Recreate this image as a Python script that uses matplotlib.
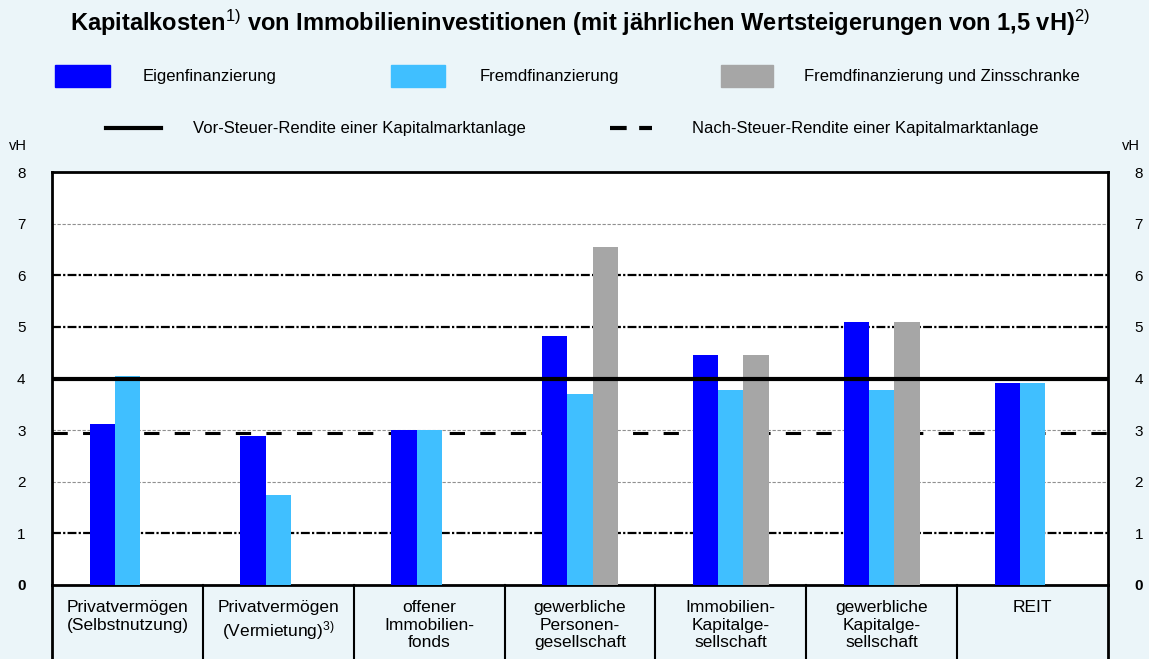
import matplotlib
matplotlib.use("Agg")
import matplotlib.pyplot as plt
from matplotlib.patches import Rectangle
from matplotlib.lines import Line2D
import numpy as np

plt.rcParams['font.family'] = ['Liberation Sans', 'DejaVu Sans']
plt.rcParams['mathtext.fontset'] = 'custom'
plt.rcParams['mathtext.rm'] = 'Liberation Sans'
plt.rcParams['mathtext.it'] = 'Liberation Sans'
plt.rcParams['mathtext.bf'] = 'Liberation Sans:bold'

categories = ["Privatvermögen\n(Selbstnutzung)",
              "Privatvermögen\n(Vermietung)$^{3)}$",
              "offener\nImmobilien-\nfonds",
              "gewerbliche\nPersonen-\ngesellschaft",
              "Immobilien-\nKapitalge-\nsellschaft",
              "gewerbliche\nKapitalge-\nsellschaft",
              "REIT"]
eigen = [3.12, 2.89, 3.0, 4.82, 4.46, 5.10, 3.91]
fremd = [4.05, 1.74, 3.0, 3.70, 3.78, 3.78, 3.91]
zins = [None, None, None, 6.55, 4.46, 5.10, None]
vor_steuer = 4.0
nach_steuer = 2.95
yticks = [0, 1, 2, 3, 4, 5, 6, 7, 8]

c_eigen = "#0000FF"
c_fremd = "#40BFFF"
c_zins = "#A6A6A6"
bg = "#EBF5F9"

W, H = 1149, 659
fig = plt.figure(figsize=(W / 100, H / 100), dpi=100, facecolor=bg)

def fx(px):
    return px / W

def fy(py):
    return 1 - py / H

ax_l, ax_r, ax_t, ax_b = 52, 1108, 172, 585
ax = fig.add_axes([fx(ax_l), fy(ax_b), fx(ax_r - ax_l), (ax_b - ax_t) / H])
ax.set_facecolor("white")

n = len(categories)
x = np.arange(n)
bw = 0.167
ax.bar(x - bw, eigen, bw, color=c_eigen, zorder=3)
ax.bar(x, fremd, bw, color=c_fremd, zorder=3)
zx = [xi + bw for xi, v in zip(x, zins) if v is not None]
zv = [v for v in zins if v is not None]
ax.bar(zx, zv, bw, color=c_zins, zorder=3)

ax.set_xlim(-0.5, n - 0.5)
ax.set_ylim(0, 8)

# gridlines
for yv in [1, 5, 6]:
    ax.axhline(yv, color="black", lw=1.6, ls=(0, (4, 1, 1, 1)), zorder=1)
for yv in [2, 3, 7]:
    ax.axhline(yv, color="#909090", lw=0.8, ls=(0, (3, 1.5)), zorder=1)

ax.axhline(vor_steuer, color="black", lw=3, zorder=4)
ax.axhline(nach_steuer, color="black", lw=2.2, ls=(0, (5, 5)), zorder=2)

for s in ax.spines.values():
    s.set_linewidth(2)
    s.set_color("black")

ax.set_xticks([])
ax.set_yticks(yticks)
ax.set_yticklabels([str(t) for t in yticks])
ax.tick_params(axis='y', length=0, labelsize=11, labelright=True, left=False, right=False, pad=19)
for t in ax.yaxis.get_major_ticks():
    if t.label1.get_text() == "0":
        t.label1.set_fontweight("bold")
        t.label2.set_fontweight("bold")

# category table below axes
for i in range(n + 1):
    ax.plot([i - 0.5, i - 0.5], [0, -1.6], color="black", lw=1.5 if 0 < i < n else 2,
            clip_on=False, transform=ax.transData)
for i, cat in enumerate(categories):
    ax.text(i, -0.3, cat, ha="center", va="top", fontsize=12.5, linespacing=1.2,
            clip_on=False)

# vH labels
fig.text(fx(18), fy(146), "vH", ha="center", va="center", fontsize=10.5)
fig.text(fx(1131), fy(146), "vH", ha="center", va="center", fontsize=10.5)

# title
fig.text(fx(580), fy(23), r"Kapitalkosten$^{\mathrm{1)}}$ von Immobilieninvestitionen (mit jährlichen Wertsteigerungen von 1,5 vH)$^{\mathrm{2)}}$",
         ha="center", va="center", fontsize=17, fontweight="bold")

# legend row 1
def patch(x0, x1, yc, color):
    fig.patches.append(Rectangle((fx(x0), fy(yc + 11)), fx(x1 - x0), 22 / H,
                                 transform=fig.transFigure, color=color))

patch(55, 110, 76, c_eigen)
fig.text(fx(143), fy(76), "Eigenfinanzierung", va="center", fontsize=12)
patch(391, 445, 76, c_fremd)
fig.text(fx(480), fy(76), "Fremdfinanzierung", va="center", fontsize=12)
patch(721, 773, 76, c_zins)
fig.text(fx(804), fy(76), "Fremdfinanzierung und Zinsschranke", va="center", fontsize=12)

# legend row 2
fig.lines.append(Line2D([fx(106), fx(161)], [fy(128), fy(128)], transform=fig.transFigure,
                        color="black", lw=3))
fig.text(fx(193), fy(128), "Vor-Steuer-Rendite einer Kapitalmarktanlage", va="center", fontsize=12)
fig.lines.append(Line2D([fx(610), fx(652)], [fy(128), fy(128)], transform=fig.transFigure,
                        color="black", lw=3, ls=(0, (4, 3))))
fig.text(fx(692), fy(128), "Nach-Steuer-Rendite einer Kapitalmarktanlage", va="center", fontsize=12)

fig.savefig("out.png", dpi=100, facecolor=bg)
